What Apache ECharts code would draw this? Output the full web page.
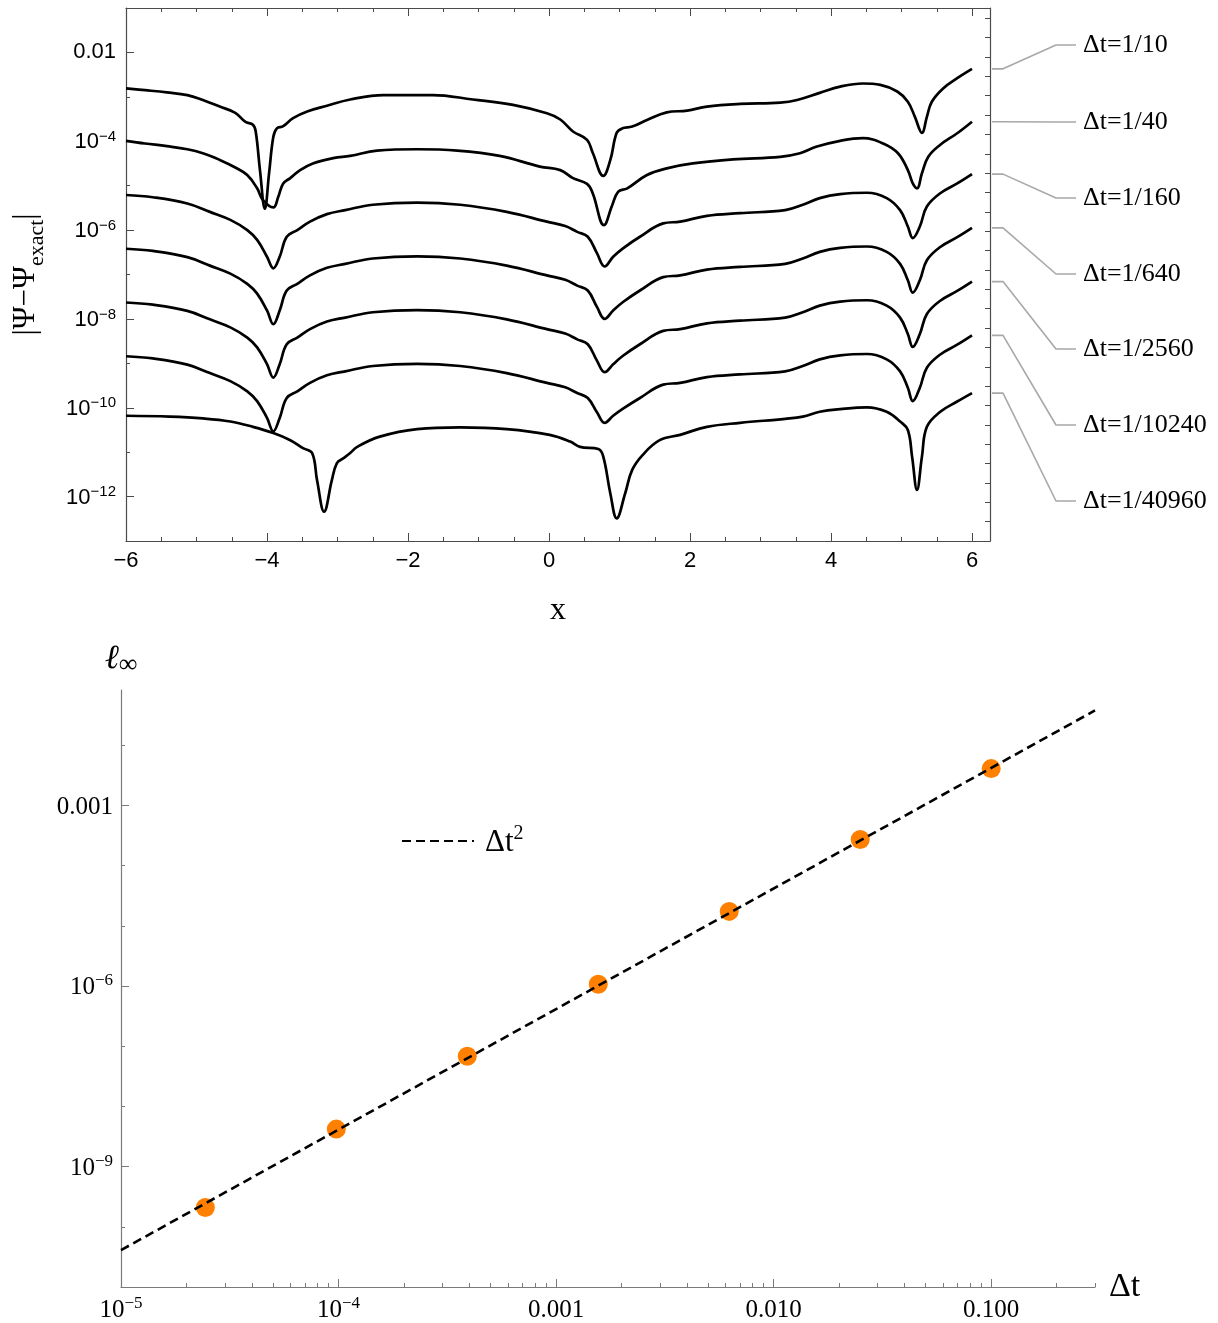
<!DOCTYPE html>
<html>
<head>
<meta charset="utf-8">
<script src="https://cdn.jsdelivr.net/npm/echarts@6.0.0/dist/echarts.min.js"></script>
<style>
  html, body { margin: 0; padding: 0; background: #fff; }
  #chart { width: 1218px; height: 1323px; }
</style>
</head>
<body>
<div id="chart"></div>
<script>
// top panel: log10 |Ψ−Ψexact| along x (one curve per time step)
const dtLabels = ['Δt=1/10', 'Δt=1/40', 'Δt=1/160', 'Δt=1/640', 'Δt=1/2560', 'Δt=1/10240', 'Δt=1/40960'];

const x1 = [-6.0, -5.73, -5.42, -5.13, -4.91, -4.67, -4.45, -4.31, -4.20, -4.16, -4.10, -4.03, -3.97, -3.91, -3.86, -3.77, -3.63, -3.43, -3.15, -2.82,
  -2.35, -1.65, -1.08, -0.51, -0.03, 0.16, 0.34, 0.54, 0.62, 0.77, 0.87, 0.96, 1.04, 1.18, 1.39, 1.67, 1.96, 2.24, 2.71, 3.28,
  3.52, 3.84, 4.13, 4.45, 4.70, 4.94, 5.09, 5.19, 5.29, 5.36, 5.43, 5.59, 5.79, 6.0];
const logErr1 = [-2.81, -2.85, -2.90, -2.96, -3.07, -3.22, -3.36, -3.56, -3.63, -3.78, -4.65, -5.52, -4.71, -3.90, -3.71, -3.66, -3.48, -3.33, -3.20, -3.06,
  -2.96, -2.96, -3.06, -3.18, -3.37, -3.51, -3.78, -3.97, -4.26, -4.78, -4.42, -3.81, -3.71, -3.67, -3.52, -3.35, -3.31, -3.22, -3.16, -3.13,
  -3.07, -2.91, -2.77, -2.70, -2.73, -2.88, -3.11, -3.45, -3.81, -3.45, -3.11, -2.81, -2.58, -2.37];

const x2 = [-6.0, -5.73, -5.42, -5.13, -4.91, -4.67, -4.45, -4.28, -4.14, -4.06, -3.91, -3.84, -3.77, -3.67, -3.53, -3.35, -3.06, -2.82, -2.44, -1.87,
  -1.30, -0.70, -0.13, 0.16, 0.34, 0.54, 0.62, 0.78, 0.89, 0.98, 1.11, 1.39, 1.67, 2.04, 2.61, 3.28, 3.56, 3.80, 4.13, 4.45,
  4.74, 4.95, 5.09, 5.16, 5.22, 5.29, 5.38, 5.55, 5.79, 6.0];
const logErr2 = [-3.99, -4.05, -4.11, -4.18, -4.27, -4.42, -4.59, -4.76, -5.06, -5.32, -5.49, -5.25, -4.95, -4.83, -4.65, -4.50, -4.38, -4.33, -4.21, -4.18,
  -4.21, -4.33, -4.57, -4.65, -4.83, -4.96, -5.17, -5.89, -5.47, -5.14, -5.06, -4.76, -4.61, -4.50, -4.41, -4.35, -4.27, -4.12, -3.99, -3.93,
  -4.05, -4.27, -4.65, -4.95, -5.06, -4.72, -4.35, -4.08, -3.82, -3.56];

// x samples shared by the 1/160 ... 1/10240 curves
const xMid = [-6.0, -5.62, -5.13, -4.81, -4.52, -4.28, -4.14, -4.00, -3.91, -3.82, -3.72, -3.57, -3.39, -3.15, -2.89, -2.50, -1.87, -1.26, -0.60, -0.03,
  0.23, 0.40, 0.55, 0.68, 0.79, 0.91, 1.05, 1.29, 1.62, 1.86, 2.24, 2.71, 3.35, 3.60, 3.84, 4.13, 4.51, 4.79, 4.98, 5.09,
  5.16, 5.26, 5.36, 5.55, 5.79, 6.0];
const logErr3 = [-5.21, -5.26, -5.40, -5.59, -5.77, -6.00, -6.22, -6.60, -6.86, -6.60, -6.15, -6.00, -5.81, -5.64, -5.55, -5.43, -5.38, -5.43, -5.59, -5.81,
  -5.91, -6.04, -6.15, -6.52, -6.82, -6.60, -6.41, -6.15, -5.85, -5.81, -5.68, -5.62, -5.55, -5.43, -5.28, -5.19, -5.16, -5.28, -5.55, -5.92,
  -6.18, -5.92, -5.47, -5.17, -4.95, -4.74];
const logErr4 = [-6.42, -6.47, -6.61, -6.80, -6.98, -7.21, -7.43, -7.81, -8.12, -7.81, -7.36, -7.21, -7.02, -6.85, -6.76, -6.64, -6.59, -6.64, -6.80, -7.02,
  -7.12, -7.25, -7.36, -7.73, -8.00, -7.81, -7.62, -7.36, -7.06, -7.02, -6.89, -6.83, -6.76, -6.64, -6.49, -6.40, -6.37, -6.49, -6.76, -7.13,
  -7.41, -7.13, -6.68, -6.38, -6.16, -5.95];
const logErr5 = [-7.63, -7.68, -7.82, -8.01, -8.19, -8.42, -8.64, -9.02, -9.32, -9.02, -8.57, -8.42, -8.23, -8.06, -7.97, -7.85, -7.80, -7.85, -8.01, -8.23,
  -8.33, -8.46, -8.57, -8.94, -9.20, -9.02, -8.83, -8.57, -8.27, -8.23, -8.10, -8.04, -7.97, -7.85, -7.70, -7.61, -7.58, -7.70, -7.97, -8.34,
  -8.63, -8.34, -7.89, -7.59, -7.37, -7.16];
const logErr6 = [-8.84, -8.89, -9.03, -9.22, -9.40, -9.63, -9.85, -10.23, -10.53, -10.23, -9.78, -9.63, -9.44, -9.27, -9.18, -9.06, -9.01, -9.06, -9.22, -9.44,
  -9.54, -9.67, -9.78, -10.10, -10.34, -10.18, -10.02, -9.78, -9.48, -9.44, -9.31, -9.25, -9.18, -9.06, -8.91, -8.82, -8.79, -8.91, -9.18, -9.55,
  -9.85, -9.55, -9.10, -8.80, -8.58, -8.37];

const x7 = [-6.0, -5.38, -4.91, -4.52, -4.20, -3.91, -3.67, -3.49, -3.36, -3.29, -3.19, -3.08, -3.01, -2.92, -2.82, -2.72, -2.40, -1.87, -1.26, -0.60,
  0.01, 0.30, 0.44, 0.70, 0.77, 0.87, 0.96, 1.08, 1.18, 1.33, 1.57, 1.86, 2.24, 2.71, 3.35, 3.60, 3.84, 4.13, 4.51, 4.79,
  4.98, 5.09, 5.15, 5.22, 5.29, 5.36, 5.55, 5.79, 6.0];
const logErr7 = [-10.18, -10.20, -10.24, -10.31, -10.43, -10.57, -10.73, -10.91, -11.02, -11.63, -12.34, -11.63, -11.25, -11.14, -11.02, -10.88, -10.65, -10.48, -10.44, -10.48,
  -10.61, -10.76, -10.88, -10.93, -11.10, -11.93, -12.49, -11.93, -11.40, -11.06, -10.73, -10.61, -10.43, -10.34, -10.25, -10.20, -10.09, -10.03, -9.99, -10.09,
  -10.31, -10.50, -11.10, -11.85, -11.10, -10.43, -10.09, -9.86, -9.67];

// bottom panel: l_inf error against the time step
const dtValues = [1 / 40960, 1 / 10240, 1 / 2560, 1 / 640, 1 / 160, 1 / 40, 1 / 10];
const linfErr = [2.1e-10, 4.2e-9, 6.8e-8, 1.07e-6, 1.74e-5, 2.72e-4, 4.1e-3];
const refDt = [1e-5, 0.3];
const refErr = [4.1e-11, 3.8e-2];

// tick positions
const topXMajor = [-6, -4, -2, 0, 2, 4, 6];
const topXMinor = [];
for (let v = -5.5; v <= 6; v += 0.5) topXMinor.push(v);
const topYDecades = [];
for (let e = -13; e <= -1; e++) topYDecades.push(e);
const topYMajor = [-12, -10, -8, -6, -4, -2];

const botXMaxExp = Math.log10(0.3);
const botYMaxExp = Math.log10(0.083);
const botXMajor = [-5, -4, -3, -2, -1];
const botXMinor = [];
for (let n = -5; n <= -1; n++) {
  for (let k = 2; k <= 9; k++) {
    const v = n + Math.log10(k);
    if (v <= botXMaxExp + 1e-9) botXMinor.push(v);
  }
}
const botYDecades = [];
for (let e = -11; e <= -2; e++) botYDecades.push(e);
const botYMajor = [-9, -6, -3];

// layout
const SANS = "'Liberation Sans', Arial, sans-serif";
const SERIF = "'Liberation Serif', 'Times New Roman', serif";
const TOP = { left: 126, top: 8, width: 864, height: 533 };
const BOT = { left: 121, top: 690, width: 974, height: 597 };
const frameTop = '#4a4a4a';
const frameBot = '#7a7a7a';
const calloutY = [45, 122, 198, 274, 349, 425, 501];

const supRichSans = {
  b: { fontFamily: SANS, fontSize: 22, lineHeight: 24, verticalAlign: 'bottom', color: '#000' },
  s: { fontFamily: SANS, fontSize: 15, lineHeight: 16, verticalAlign: 'top', color: '#000' }
};
const supRichSerif = {
  b: { fontFamily: SERIF, fontSize: 25, lineHeight: 28, verticalAlign: 'bottom', color: '#000' },
  s: { fontFamily: SERIF, fontSize: 17, lineHeight: 17, verticalAlign: 'top', color: '#000' }
};
const powLabel = (e) => '{b|10}{s|−' + (-e) + '}';
const minusNum = (v) => (v < 0 ? '−' + (-v) : String(v));

// an axis that only carries ticks (and maybe labels) at given positions
function tickAxis(base, ticks, len, color, label) {
  return Object.assign({
    type: 'value',
    axisLine: { show: false, onZero: false },
    axisTick: { show: true, inside: true, length: len, customValues: ticks, lineStyle: { color: color, width: 1 } },
    axisLabel: label || { show: false },
    splitLine: { show: false }
  }, base);
}

const curves = [[x1, logErr1], [x2, logErr2], [xMid, logErr3], [xMid, logErr4], [xMid, logErr5], [xMid, logErr6], [x7, logErr7]];

const topSeries = curves.map(([xs, ls], i) => ({
  type: 'line',
  name: dtLabels[i],
  xAxisIndex: 0,
  yAxisIndex: 0,
  data: xs.map((x, j) => [x, Math.pow(10, ls[j])]),
  showSymbol: false,
  symbol: 'none',
  smooth: 0.4,
  silent: true,
  lineStyle: { color: '#000', width: 2.7, join: 'round' }
}));

const chart = echarts.init(document.getElementById('chart'));

const option = {
  animation: false,
  backgroundColor: '#fff',
  grid: [
    Object.assign({ containLabel: false }, TOP),
    Object.assign({ containLabel: false }, BOT)
  ],
  legend: {
    data: ['Δt²'],
    left: 396,
    top: 819,
    selectedMode: false,
    itemWidth: 72,
    itemHeight: 16,
    itemStyle: { opacity: 0 },
    formatter: () => '{a|Δt}{s|2}',
    textStyle: {
      rich: {
        a: { fontFamily: SERIF, fontSize: 31, lineHeight: 34, verticalAlign: 'bottom', color: '#000', padding: [0, 0, 0, 6] },
        s: { fontFamily: SERIF, fontSize: 20, lineHeight: 19, verticalAlign: 'top', color: '#000' }
      }
    }
  },
  xAxis: [
    {
      gridIndex: 0, type: 'value', min: -6, max: -6 + TOP.width / 70.5, position: 'bottom',
      axisLine: { show: true, onZero: false, lineStyle: { color: frameTop, width: 1.2 } },
      axisTick: { show: true, inside: true, length: 8, customValues: topXMajor, lineStyle: { color: frameTop } },
      axisLabel: { customValues: topXMajor, margin: 9, fontFamily: SANS, fontSize: 22, color: '#000', formatter: minusNum },
      splitLine: { show: false },
      name: 'x', nameLocation: 'middle', nameGap: 54,
      nameTextStyle: { fontFamily: SERIF, fontSize: 32, color: '#000' }
    },
    tickAxis({ gridIndex: 0, min: -6, max: -6 + TOP.width / 70.5, position: 'bottom' }, topXMinor, 4, frameTop),
    {
      gridIndex: 0, type: 'value', min: -6, max: -6 + TOP.width / 70.5, position: 'top',
      axisLine: { show: true, onZero: false, lineStyle: { color: frameTop, width: 1.2 } },
      axisTick: { show: true, inside: true, length: 8, customValues: topXMajor, lineStyle: { color: frameTop } },
      axisLabel: { show: false },
      splitLine: { show: false }
    },
    tickAxis({ gridIndex: 0, min: -6, max: -6 + TOP.width / 70.5, position: 'top' }, topXMinor, 4, frameTop),
    {
      gridIndex: 1, type: 'log', logBase: 10, min: 1e-5, max: 0.3, position: 'bottom',
      axisLine: { show: true, onZero: false, lineStyle: { color: frameBot, width: 1.2 } },
      axisTick: { show: false },
      axisLabel: { show: false },
      splitLine: { show: false },
      name: 'Δt', nameLocation: 'end', nameGap: 14,
      nameTextStyle: { fontFamily: SERIF, fontSize: 34, color: '#000', verticalAlign: 'middle', padding: [6, 0, 0, 0] }
    },
    tickAxis({ gridIndex: 1, min: -5, max: botXMaxExp, position: 'bottom' }, botXMajor, 8, frameBot, {
      show: true, customValues: botXMajor, margin: 8, rich: supRichSerif,
      formatter: (e) => (e <= -4 ? powLabel(e) : '{b|' + ['0.001', '0.010', '0.100'][e + 3] + '}')
    }),
    tickAxis({ gridIndex: 1, min: -5, max: botXMaxExp, position: 'bottom' }, botXMinor, 4, frameBot)
  ],
  yAxis: [
    {
      gridIndex: 0, type: 'log', logBase: 10, min: 1e-13, max: 1e-1, position: 'left',
      axisLine: { show: true, onZero: false, lineStyle: { color: frameTop, width: 1.2 } },
      axisTick: { show: false },
      axisLabel: { show: false },
      splitLine: { show: false },
      name: '{a||Ψ−Ψ}{b|exact}{a||}',
      nameLocation: 'middle', nameRotate: 90, nameGap: 78,
      nameTextStyle: {
        rich: {
          a: { fontFamily: SERIF, fontSize: 31, lineHeight: 38, verticalAlign: 'top', color: '#000' },
          b: { fontFamily: SERIF, fontSize: 22, lineHeight: 22, verticalAlign: 'bottom', color: '#000' }
        }
      }
    },
    tickAxis({ gridIndex: 0, min: -13, max: -1, position: 'left' }, topYDecades, 4, frameTop),
    tickAxis({ gridIndex: 0, min: -13, max: -1, position: 'left' }, topYMajor, 8, frameTop, {
      show: true, customValues: topYMajor, margin: 10, rich: supRichSans,
      fontFamily: SANS, fontSize: 22, color: '#000',
      formatter: (e) => (e === -2 ? '0.01' : powLabel(e))
    }),
    {
      gridIndex: 0, type: 'value', min: 0, max: 27.53, interval: 1, position: 'right',
      axisLine: { show: true, onZero: false, lineStyle: { color: frameTop, width: 1.2 } },
      axisTick: { show: true, inside: true, length: 5, lineStyle: { color: frameTop } },
      axisLabel: { show: false },
      splitLine: { show: false }
    },
    {
      gridIndex: 1, type: 'log', logBase: 10, min: 1e-11, max: 0.083, position: 'left',
      axisLine: { show: true, onZero: false, lineStyle: { color: frameBot, width: 1.2 } },
      axisTick: { show: false },
      axisLabel: { show: false },
      splitLine: { show: false },
      name: '{l|ℓ}{s|∞}', nameLocation: 'end', nameGap: 12,
      nameTextStyle: {
        rich: {
          l: { fontFamily: SERIF, fontStyle: 'italic', fontSize: 34, lineHeight: 36, verticalAlign: 'top', color: '#000' },
          s: { fontFamily: SERIF, fontSize: 26, lineHeight: 26, verticalAlign: 'bottom', color: '#000' }
        }
      }
    },
    tickAxis({ gridIndex: 1, min: -11, max: botYMaxExp, position: 'left' }, botYDecades, 4, frameBot),
    tickAxis({ gridIndex: 1, min: -11, max: botYMaxExp, position: 'left' }, botYMajor, 8, frameBot, {
      show: true, customValues: botYMajor, margin: 8, rich: supRichSerif,
      formatter: (e) => (e === -3 ? '{b|0.001}' : powLabel(e))
    })
  ],
  series: topSeries.concat([
    {
      type: 'scatter',
      name: 'linf',
      xAxisIndex: 4,
      yAxisIndex: 4,
      data: dtValues.map((d, i) => [d, linfErr[i]]),
      symbol: 'circle',
      symbolSize: 19,
      itemStyle: { color: '#FF8000', opacity: 1 },
      z: 2,
      silent: true
    },
    {
      type: 'line',
      name: 'Δt²',
      xAxisIndex: 4,
      yAxisIndex: 4,
      data: refDt.map((d, i) => [d, refErr[i]]),
      symbol: 'none',
      showSymbol: false,
      itemStyle: { color: '#000' },
      lineStyle: { color: '#000', width: 2.6, type: [9, 5] },
      z: 3,
      silent: true
    }
  ])
};

chart.setOption(option);

// callouts: from each curve's right end (via the chart's own scales) to its label
const frameRight = TOP.left + TOP.width;
const graphics = [];
curves.forEach(([xs, ls], i) => {
  const p = chart.convertToPixel({ seriesIndex: i }, [xs[xs.length - 1], Math.pow(10, ls[ls.length - 1])]);
  const y0 = p[1];
  const yl = calloutY[i];
  graphics.push({
    type: 'polyline',
    shape: { points: [[frameRight + 2, y0], [frameRight + 13, y0], [frameRight + 66, yl], [frameRight + 86, yl]] },
    style: { stroke: '#a8a8a8', lineWidth: 1.6, fill: null, lineJoin: 'round' },
    silent: true
  });
  graphics.push({
    type: 'text',
    x: frameRight + 93,
    y: yl,
    style: { text: dtLabels[i], fontFamily: SERIF, fontSize: 26, fill: '#000', align: 'left', verticalAlign: 'middle' },
    silent: true
  });
});
chart.setOption({ graphic: graphics });
</script>
</body>
</html>
